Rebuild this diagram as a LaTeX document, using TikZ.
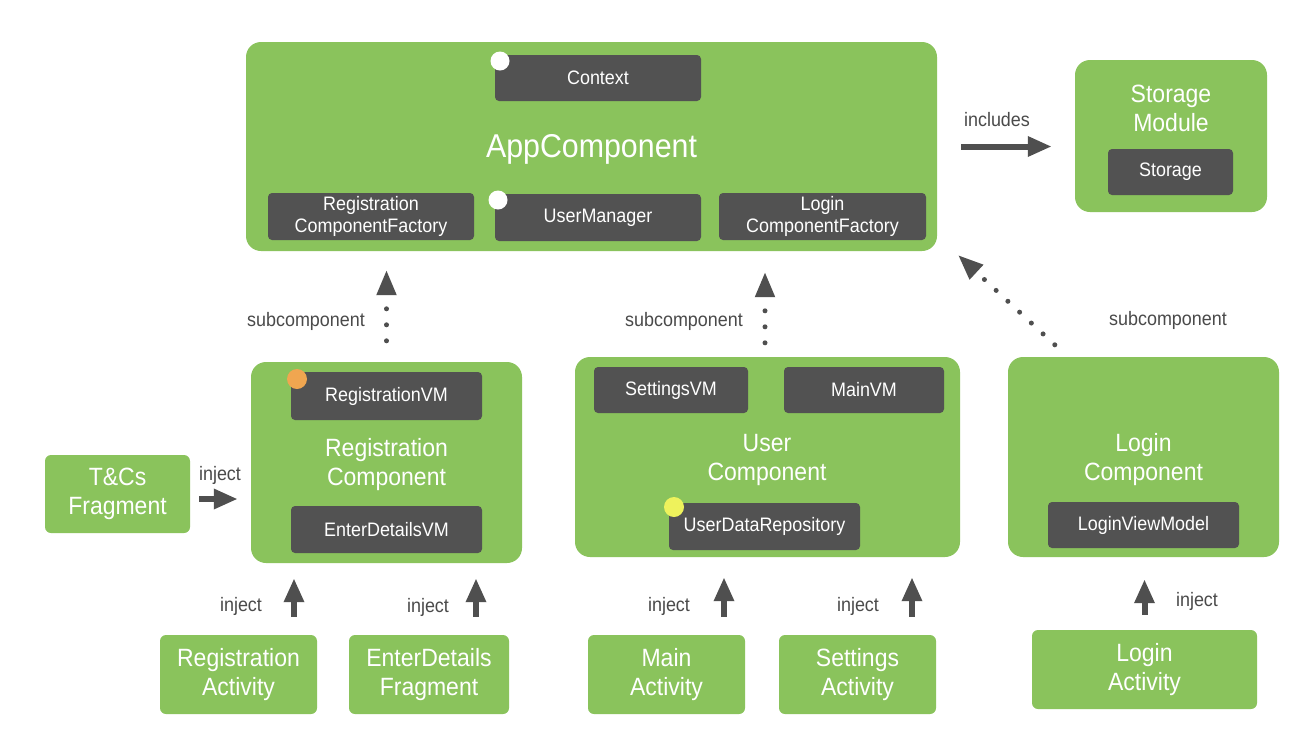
\documentclass[tikz,border=0pt]{standalone}
\usepackage{fontspec}
\setmainfont{Liberation Sans}[FakeStretch=0.92]
\usetikzlibrary{arrows.meta,calc}
\definecolor{grn}{HTML}{8AC35C}
\definecolor{dk}{HTML}{525252}
\definecolor{arrc}{HTML}{4F4F4F}
\definecolor{lbl}{HTML}{4A4A4A}
\definecolor{orng}{HTML}{F0A650}
\definecolor{yel}{HTML}{EEF25C}
\tikzset{
  bigbox/.style={fill=grn, rounded corners=15pt, inner sep=0pt},
  actbox/.style={fill=grn, rounded corners=6pt, inner sep=0pt, text=white, align=center,
    font=\fontsize{25}{29}\selectfont},
  dbox/.style={fill=dk, rounded corners=4pt, inner sep=0pt, text=white, align=center,
    font=\fontsize{19.5}{22}\selectfont},
  title/.style={text=white, align=center, inner sep=0pt, font=\fontsize{25}{29}\selectfont},
  lab/.style={text=lbl, inner sep=0pt, font=\fontsize{19.5}{22}\selectfont},
  dot/.style={circle, inner sep=0pt, minimum size=#1},
  arr/.style={draw=arrc, line width=6pt, -{Triangle[length=24pt,width=19pt]}},
  dotarr/.style={draw=arrc, line width=5pt, line cap=round, dash pattern=on 0pt off 16pt,
    -{Triangle[length=25pt,width=19pt]}}
}
\begin{document}
\begin{tikzpicture}[x=1pt,y=-1pt]
\path[use as bounding box, fill=white] (0,0) rectangle (1294,748);

% AppComponent
\node[bigbox, minimum width=691pt, minimum height=209pt] (app) at (591.5,146.5) {};
\node[title, font=\fontsize{33}{36}\selectfont] (appt) at (591.5,149) {AppComponent};
\node[dbox, minimum width=206pt, minimum height=46pt] (ctx) at (598,78) {Context};
\node[dbox, minimum width=206pt, minimum height=47pt] (rcf) at (371,216.5) {Registration\\ComponentFactory};
\node[dbox, minimum width=206pt, minimum height=47pt] (um) at (598,217.5) {UserManager};
\node[dbox, minimum width=207pt, minimum height=47pt] (lcf) at (822.5,216.5) {Login\\ComponentFactory};
\node[dot=19pt, fill=white] (ctxd) at (500,61) {};
\node[dot=19pt, fill=white] (umd) at (498,200) {};

% Storage module
\node[bigbox, minimum width=192pt, minimum height=152pt] (stmod) at (1171,136) {};
\node[title] (stt) at (1171,108.5) {Storage\\Module};
\node[dbox, minimum width=125pt, minimum height=46pt] (st) at (1170.5,172) {Storage};
\node[lab] (incl) at (997,120) {includes};
\draw[arr, shorten <=24pt, shorten >=23pt] (app.east) -- (app.east -| stmod.west);

% Registration component
\node[bigbox, minimum width=271pt, minimum height=201pt] (regc) at (386.5,462.5) {};
\node[title] (regt) at (386.5,465) {Registration\\Component};
\node[dbox, minimum width=191pt, minimum height=48pt] (rvm) at (386.5,396) {RegistrationVM};
\node[dbox, minimum width=191pt, minimum height=47pt] (edvm) at (386.5,529.5) {EnterDetailsVM};
\node[dot=20pt, fill=orng] (rvmd) at (297,379) {};

% User component
\node[bigbox, minimum width=385pt, minimum height=200pt] (userc) at (767.5,457) {};
\node[title] (usert) at (767,460) {User\\Component};
\node[dbox, minimum width=154pt, minimum height=46pt] (svm) at (671,390) {SettingsVM};
\node[dbox, minimum width=160pt, minimum height=46pt] (mvm) at (864,390) {MainVM};
\node[dbox, minimum width=191pt, minimum height=47pt] (udr) at (764.5,526.5) {UserDataRepository};
\node[dot=20pt, fill=yel] (udrd) at (674,507) {};

% Login component
\node[bigbox, minimum width=271pt, minimum height=200pt] (logc) at (1143.5,457) {};
\node[title] (logt) at (1143.5,460) {Login\\Component};
\node[dbox, minimum width=191pt, minimum height=46pt] (lvm) at (1143.5,525) {LoginViewModel};

% subcomponent arrows
\node[lab] (sub1) at (306,321) {subcomponent};
\node[lab] (sub2) at (684,321) {subcomponent};
\node[lab] (sub3) at (1168,320) {subcomponent};
\draw[dotarr, shorten <=21pt, shorten >=19pt] (regc.north) -- (regc.north |- app.south);
\coordinate (us) at ([xshift=-2.5pt]userc.north);
\draw[dotarr, shorten <=14pt, shorten >=21pt] (us) -- (us |- app.south);
\coordinate (ls) at ([shift={(47,-12)}]logc.north west);
\coordinate (le) at ([shift={(21,4)}]app.south east);
\draw[dotarr] (ls) -- (le);

% T&Cs fragment
\node[actbox, minimum width=145pt, minimum height=78pt] (tcs) at (117.5,494) {T\&Cs\\Fragment};
\node[lab] (inj0) at (220,475) {inject};
\coordinate (t1) at ([yshift=-5pt]tcs.east);
\draw[arr, shorten <=9pt, shorten >=13pt] (t1) -- (t1 -| regc.west);

% Activities
\node[actbox, minimum width=157pt, minimum height=79pt] (regact) at (238.5,674.5) {Registration\\Activity};
\node[actbox, minimum width=160pt, minimum height=79pt] (edf) at (429,674.5) {EnterDetails\\Fragment};
\node[actbox, minimum width=157pt, minimum height=79pt] (mainact) at (666.5,674.5) {Main\\Activity};
\node[actbox, minimum width=157pt, minimum height=79pt] (setact) at (857.5,674.5) {Settings\\Activity};
\node[actbox, minimum width=225pt, minimum height=79pt] (logact) at (1144.5,669.5) {Login\\Activity};

\node[lab] (inj1) at (241,606) {inject};
\node[lab] (inj2) at (428,607) {inject};
\node[lab] (inj3) at (669,606) {inject};
\node[lab] (inj4) at (858,606) {inject};
\node[lab] (inj5) at (1197,601) {inject};

\coordinate (a1) at ([xshift=55.5pt]regact.north);
\draw[arr, shorten <=18pt, shorten >=15pt] (a1) -- (a1 |- regc.south);
\coordinate (a2) at ([xshift=47pt]edf.north);
\draw[arr, shorten <=18pt, shorten >=15pt] (a2) -- (a2 |- regc.south);
\coordinate (a3) at ([xshift=57.5pt]mainact.north);
\draw[arr, shorten <=18pt, shorten >=20pt] (a3) -- (a3 |- userc.south);
\coordinate (a4) at ([xshift=54.5pt]setact.north);
\draw[arr, shorten <=18pt, shorten >=20pt] (a4) -- (a4 |- userc.south);
\coordinate (a5) at (logact.north);
\draw[arr, shorten <=15pt, shorten >=22pt] (a5) -- (a5 |- logc.south);
\end{tikzpicture}
\end{document}
